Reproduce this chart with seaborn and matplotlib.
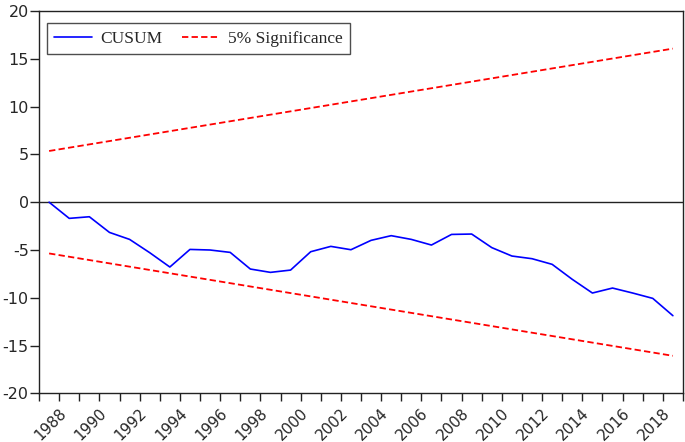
import pandas as pd
import matplotlib.pyplot as plt
from matplotlib.ticker import FixedLocator
import seaborn as sns

# ── Data ──────────────────────────────────────────────────────────────────────
YEARS = list(range(1987, 2019))
CUSUM = [0.00, -1.69, -1.52, -3.16, -3.89, -5.28, -6.78, -4.94,
         -5.00, -5.25, -6.99, -7.34, -7.10, -5.18, -4.62, -4.97,
         -3.99, -3.50, -3.89, -4.48, -3.37, -3.33, -4.75, -5.63,
         -5.91, -6.50, -8.07, -9.50, -8.98, -9.50, -10.06, -11.87]
BOUND_YEARS = [1987, 2018]
UPPER = [5.36, 16.07]
LOWER = [-5.36, -16.07]
TICK_YEARS = list(range(1988, 2019, 2))
Y_TICKS = [-20, -15, -10, -5, 0, 5, 10, 15, 20]

# ── Setup ─────────────────────────────────────────────────────────────────────
sns.set_theme(style="ticks")
plt.rcParams["font.family"] = ["DejaVu Sans"]

df_cusum = pd.DataFrame({"year": YEARS, "value": CUSUM})
df_up = pd.DataFrame({"year": BOUND_YEARS, "value": UPPER})
df_lo = pd.DataFrame({"year": BOUND_YEARS, "value": LOWER})

fig = plt.figure(figsize=(6.85, 4.42), dpi=100)
ax = fig.add_axes([0.057, 0.110, 0.940, 0.865])

ax.axhline(0, color="#222222", linewidth=1.0, zorder=1)
sns.lineplot(data=df_cusum, x="year", y="value", ax=ax, color="#0000FF",
             linewidth=1.2, label="CUSUM", zorder=3)
sns.lineplot(data=df_up, x="year", y="value", ax=ax, color="#FF0000",
             linewidth=1.3, label="5% Significance", zorder=2)
sns.lineplot(data=df_lo, x="year", y="value", ax=ax, color="#FF0000",
             linewidth=1.3, zorder=2)
for line in ax.lines[2:]:
    line.set_dashes([3.5, 1.8])

ax.set_xlim(1986.5, 2018.5)
ax.set_ylim(-20, 20)
ax.set_xlabel("")
ax.set_ylabel("")

ax.set_yticks(Y_TICKS)
ax.set_yticklabels([str(v) for v in Y_TICKS], fontsize=11.5)
ax.tick_params(axis="y", direction="out", length=6.5, width=1, pad=1, color="#222222")

ax.xaxis.set_major_locator(FixedLocator(TICK_YEARS))
ax.set_xticklabels([str(y) for y in TICK_YEARS], rotation=45, ha="right", fontsize=10.8)
ax.xaxis.set_minor_locator(FixedLocator([y + 0.5 for y in range(1986, 2019)]))
ax.tick_params(axis="x", which="major", length=0, pad=9)
ax.tick_params(axis="x", which="minor", direction="out", length=5.5, width=1, color="#222222")

for sp in ax.spines.values():
    sp.set_visible(True)
    sp.set_color("#222222")
    sp.set_linewidth(1.0)

leg = ax.legend(loc="upper left", bbox_to_anchor=(0.012, 0.968), ncol=2,
                frameon=True, fancybox=False, borderpad=0.42, borderaxespad=0,
                handlelength=2.2, handletextpad=0.45, columnspacing=1.15,
                prop={"family": "Liberation Serif", "size": 12.5})
leg.get_frame().set_edgecolor("#222222")
leg.get_frame().set_linewidth(1.0)
leg.get_lines()[1].set_dashes([3.5, 1.8])

fig.savefig("out.png", dpi=100)
